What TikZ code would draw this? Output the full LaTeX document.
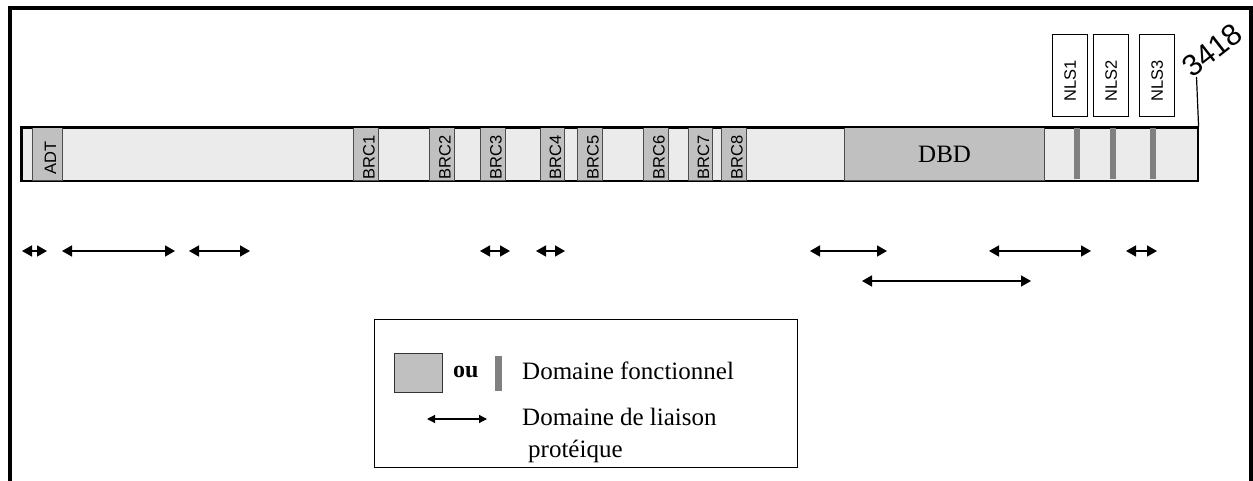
\documentclass[tikz,border=0pt]{standalone}
\usepackage{fontspec}
\setmainfont{Liberation Serif}
\newfontfamily\arialf{Liberation Sans}
\usetikzlibrary{arrows.meta}
\definecolor{barfill}{HTML}{EBEBEB}
\definecolor{domfill}{HTML}{C0C0C0}
\definecolor{nlsgray}{HTML}{808080}
\newcommand\vlab[1]{\rotatebox{90}{\hspace*{-7pt}#1\rule{0pt}{17pt}}}
\newcommand\nlab[1]{\rotatebox{90}{\hspace*{-10pt}#1}}
\begin{document}
\begin{tikzpicture}[x=1pt,y=-1pt,
  frame/.style={line width=3.5pt, black},
  protbar/.style={draw=black, line width=1.6pt, fill=barfill, minimum height=53pt, inner sep=0pt, anchor=north west},
  dom/.style={draw=black!70, line width=1.2pt, fill=domfill, minimum height=53pt, inner sep=0pt, anchor=north west, font=\arialf\fontsize{16.5}{16.5}\selectfont},
  nlsbox/.style={draw=black, line width=1.2pt, fill=white, minimum width=35pt, minimum height=82pt, inner sep=0pt, anchor=north west, font=\arialf\fontsize{16.5}{16.5}\selectfont},
  nlsbar/.style={fill=nlsgray, minimum width=5.5pt, minimum height=51pt, inner sep=0pt},
  bind/.style={line width=1.6pt, {Triangle[length=10pt,width=11pt]}-{Triangle[length=10pt,width=11pt]}},
  bindsmall/.style={line width=1.2pt, {Triangle[length=8pt,width=8pt]}-{Triangle[length=8pt,width=8pt]}},
  lbl/.style={anchor=base west, inner sep=0pt, font=\fontsize{25}{25}\selectfont}
]
\useasboundingbox (0,0) rectangle (1253,481);
% outer frame (open at the bottom)
\coordinate (f1) at (10,481);
\coordinate (f2) at (10,8);
\coordinate (f3) at (1251,8);
\coordinate (f4) at (1251,481);
\draw[frame] (f1) -- (f2) -- (f3) -- (f4);

% protein bar
\node[protbar, minimum width=1176pt] (bar) at (21,127) {};

% domains
\node[dom, minimum width=30pt] (adt) at (32,127) {\vlab{ADT}};
\node[dom, minimum width=25pt] (brc1) at (353,127) {\vlab{BRC1}};
\node[dom, minimum width=25pt] (brc2) at (429,127) {\vlab{BRC2}};
\node[dom, minimum width=25pt] (brc3) at (480,127) {\vlab{BRC3}};
\node[dom, minimum width=24pt] (brc4) at (540,127) {\vlab{BRC4}};
\node[dom, minimum width=25pt] (brc5) at (577,127) {\vlab{BRC5}};
\node[dom, minimum width=25pt] (brc6) at (643,127) {\vlab{BRC6}};
\node[dom, minimum width=24pt] (brc7) at (688,127) {\vlab{BRC7}};
\node[dom, minimum width=25pt] (brc8) at (721,127) {\vlab{BRC8}};
\node[dom, minimum width=200pt, font=\fontsize{25}{25}\selectfont] (dbd) at (844,127) {DBD};

% NLS stripes
\node[nlsbar] (s1) at (1077,153.5) {};
\node[nlsbar] (s2) at (1113,153.5) {};
\node[nlsbar] (s3) at (1153,153.5) {};
\draw[line width=1.6pt] (bar.north west) rectangle (bar.south east);

% NLS labels
\node[nlsbox] (nls1) at (1052,34) {\nlab{NLS1}};
\node[nlsbox] (nls2) at (1093,34) {\nlab{NLS2}};
\node[nlsbox] (nls3) at (1139,34) {\nlab{NLS3}};

% length mark
\coordinate (endtick) at (1196.5,77);
\draw[line width=1.2pt] (bar.north east) -- (endtick);
\node[rotate=38, anchor=base west, inner sep=0pt, font=\arialf\fontsize{30}{30}\selectfont] (len) at (1192,79) {3418};

% binding domains
\coordinate (a1l) at (22,251);  \coordinate (a1r) at (47,251);
\coordinate (a2l) at (62,251);  \coordinate (a2r) at (175,251);
\coordinate (a3l) at (189,251); \coordinate (a3r) at (250,251);
\coordinate (a4l) at (480,251); \coordinate (a4r) at (510,251);
\coordinate (a5l) at (536,251); \coordinate (a5r) at (565,251);
\coordinate (a6l) at (810,251); \coordinate (a6r) at (887,251);
\coordinate (a7l) at (989,251); \coordinate (a7r) at (1091,251);
\coordinate (a8l) at (1126,251); \coordinate (a8r) at (1157,251);
\coordinate (a9l) at (862,281); \coordinate (a9r) at (1031,281);
\foreach \i in {1,...,9} {\draw[bind] (a\i l) -- (a\i r);}

% legend
\node[draw=black, line width=1.2pt, minimum width=423pt, minimum height=148pt, inner sep=0pt, anchor=north west] (legend) at (374,319) {};
\node[draw=black!80, line width=1.2pt, fill=domfill, minimum width=48pt, minimum height=39pt, inner sep=0pt, anchor=north west] (lsq) at (394,353) {};
\node[lbl, font=\bfseries\fontsize{24}{24}\selectfont] (lou) at (453,377) {ou};
\node[nlsbar, minimum width=7pt, minimum height=35pt, anchor=north west] (lbar) at (495,356) {};
\node[lbl] (lfun) at (522,379) {Domaine fonctionnel};
\coordinate (lal) at (427,419); \coordinate (lar) at (487,419);
\draw[bindsmall] (lal) -- (lar);
\node[lbl] (llia) at (522,425) {Domaine de liaison};
\node[lbl] (lpro) at (528,457) {protéique};
\end{tikzpicture}
\end{document}
